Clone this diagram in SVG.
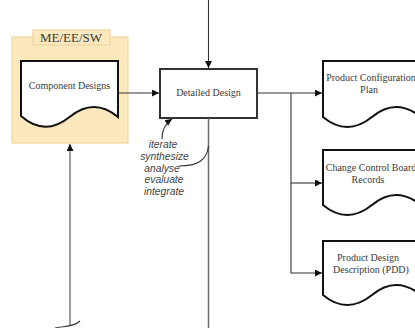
<svg xmlns="http://www.w3.org/2000/svg" width="415" height="328" viewBox="0 0 415 328">
  <style>
    .doc { fill: #ffffff; stroke: #111111; stroke-width: 2; stroke-linejoin: miter; }
    .lbl { font-family: "Liberation Serif", "Times New Roman", serif; font-size: 10px; fill: #3a3a3a; text-anchor: middle; }
    .verb { font-family: "Liberation Sans", Arial, sans-serif; font-size: 10.3px; font-style: italic; fill: #444444; text-anchor: middle; }
    .wire { fill: none; stroke: #333333; stroke-width: 1.1; }
  </style>
  <defs>
    <marker id="arrow" viewBox="0 0 10 10" refX="10" refY="5" markerWidth="7" markerHeight="7" markerUnits="userSpaceOnUse" orient="auto">
      <path d="M0,0 L10,5 L0,10 Z" fill="#111111"/>
    </marker>
  </defs>

  <!-- discipline container -->
  <g id="discipline">
    <rect x="12" y="37" width="116" height="106" fill="#fbe9bd" stroke="#eed6a0" stroke-width="1.2"/>
    <rect x="33" y="30" width="77" height="15" fill="#fbe9bd" stroke="#eed6a0" stroke-width="1.2"/>
    <text x="71" y="42" class="lbl" style="font-size:13px">ME/EE/SW</text>
  </g>

  <g id="component-designs">
    <path class="doc" d="M21,61 H118 V117 Q94,97 69.5,117 Q45,137 21,116 Z"/>
    <text x="69.5" y="89" class="lbl">Component Designs</text>
  </g>

  <g id="detailed-design">
    <rect x="160" y="69" width="97" height="49" fill="#ffffff" stroke="#333333" stroke-width="2"/>
    <text x="208.5" y="96" class="lbl">Detailed Design</text>
  </g>

  <g id="product-configuration-plan">
    <path class="doc" d="M323,61 H421 V117 Q396,97 372,117 Q347,137 323,117 Z"/>
    <text x="371" y="81" class="lbl">Product Configuration</text>
    <text x="369" y="93" class="lbl">Plan</text>
  </g>

  <g id="change-control-board-records">
    <path class="doc" d="M323,150 H421 V205 Q396,185 372,205 Q347,225 323,205 Z"/>
    <text x="371" y="171" class="lbl">Change Control Board</text>
    <text x="368" y="183" class="lbl">Records</text>
  </g>

  <g id="product-design-description">
    <path class="doc" d="M323,241 H421 V295 Q396,275 372,295 Q347,315 323,295 Z"/>
    <text x="368" y="261" class="lbl">Product Design</text>
    <text x="371" y="273" class="lbl">Description (PDD)</text>
  </g>

  <g id="activities">
    <text x="163" y="148" class="verb">iterate</text>
    <text x="164.5" y="160" class="verb">synthesize</text>
    <text x="162" y="171.5" class="verb">analyse</text>
    <text x="164" y="183" class="verb">evaluate</text>
    <text x="164" y="195" class="verb">integrate</text>
  </g>

  <g id="connectors">
    <!-- control input from above -->
    <line class="wire" x1="208.5" y1="0" x2="208.5" y2="68" marker-end="url(#arrow)"/>
    <!-- mechanism line below -->
    <line x1="208.5" y1="118" x2="208.5" y2="328" stroke="#6a6a6a" stroke-width="1.5"/>
    <!-- component designs into detailed design -->
    <line class="wire" x1="118" y1="93" x2="159" y2="93" marker-end="url(#arrow)"/>
    <!-- outputs -->
    <line class="wire" x1="257" y1="93" x2="322" y2="93" marker-end="url(#arrow)"/>
    <polyline class="wire" points="291,93 291,273 322,273" marker-end="url(#arrow)"/>
    <line class="wire" x1="291" y1="183" x2="322" y2="183" marker-end="url(#arrow)"/>
    <!-- feedback up into the container -->
    <line x1="70" y1="326" x2="70" y2="144" stroke="#6a6a6a" stroke-width="1.3" marker-end="url(#arrow)"/>
    <path class="wire" d="M55,328 C64,326 74,327 80,321" stroke="#111111" stroke-width="1.4"/>
    <!-- activity callouts -->
    <path class="wire" d="M162,139 C162,130 166,123 172,119" marker-end="url(#arrow)"/>
    <path class="wire" d="M208.5,146 C207,160 198,166 179,166"/>
  </g>
</svg>
